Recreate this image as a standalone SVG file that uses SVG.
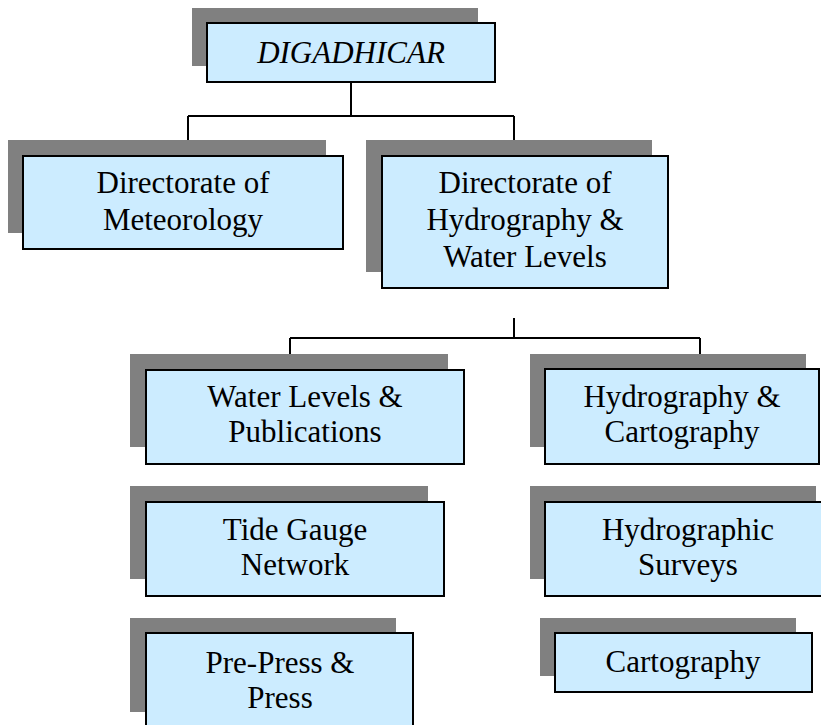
<svg xmlns="http://www.w3.org/2000/svg" width="821" height="725" viewBox="0 0 821 725">
<style>
.sh{fill:#808080;stroke:none}
.bx{fill:#CCECFF;stroke:#000;stroke-width:2}
.t{font-family:"Liberation Serif","Times New Roman",serif;font-size:31px;fill:#000;text-anchor:middle}
.it{font-style:italic}
.ln{fill:none;stroke:#000;stroke-width:2}
</style>
<rect width="821" height="725" fill="#fff"/>
<g id="connectors">
<path class="ln" d="M351,82 V116 M188,116 H514 M188,116 V156 M514,116 V156"/>
<path class="ln" d="M514,318 V338 M290,338 H700 M290,338 V370 M700,338 V369"/>
</g>
<g id="digadhicar">
<rect class="sh" x="192" y="8" width="286" height="58"/>
<rect class="bx" x="207" y="23" width="288" height="59"/>
<text class="t it" x="351" y="63">DIGADHICAR</text>
</g>
<g id="meteorology">
<rect class="sh" x="8" y="140" width="318" height="93"/>
<rect class="bx" x="23" y="156" width="320" height="93"/>
<text class="t" x="183" y="193">Directorate of</text>
<text class="t" x="183" y="230">Meteorology</text>
</g>
<g id="hydrography-water-levels">
<rect class="sh" x="366" y="140" width="286" height="132"/>
<rect class="bx" x="382" y="156" width="286" height="132"/>
<text class="t" x="525" y="193">Directorate of</text>
<text class="t" x="525" y="230">Hydrography &amp;</text>
<text class="t" x="525" y="267">Water Levels</text>
</g>
<g id="water-levels-publications">
<rect class="sh" x="130" y="354" width="318" height="93"/>
<rect class="bx" x="146" y="370" width="318" height="94"/>
<text class="t" x="305" y="407">Water Levels &amp;</text>
<text class="t" x="305" y="442">Publications</text>
</g>
<g id="tide-gauge-network">
<rect class="sh" x="130" y="486" width="298" height="93"/>
<rect class="bx" x="146" y="502" width="298" height="94"/>
<text class="t" x="295" y="540">Tide Gauge</text>
<text class="t" x="295" y="575">Network</text>
</g>
<g id="pre-press-press">
<rect class="sh" x="130" y="618" width="266" height="94"/>
<rect class="bx" x="146" y="633" width="267" height="100"/>
<text class="t" x="280" y="673">Pre-Press &amp;</text>
<text class="t" x="280" y="708">Press</text>
</g>
<g id="hydrography-cartography">
<rect class="sh" x="530" y="354" width="276" height="93"/>
<rect class="bx" x="545" y="369" width="274" height="95"/>
<text class="t" x="682" y="407">Hydrography &amp;</text>
<text class="t" x="682" y="442">Cartography</text>
</g>
<g id="hydrographic-surveys">
<rect class="sh" x="530" y="486" width="286" height="93"/>
<rect class="bx" x="545" y="502" width="286" height="94"/>
<text class="t" x="688" y="540">Hydrographic</text>
<text class="t" x="688" y="575">Surveys</text>
</g>
<g id="cartography">
<rect class="sh" x="540" y="618" width="256" height="58"/>
<rect class="bx" x="555" y="633" width="257" height="59"/>
<text class="t" x="683" y="672">Cartography</text>
</g>
</svg>
